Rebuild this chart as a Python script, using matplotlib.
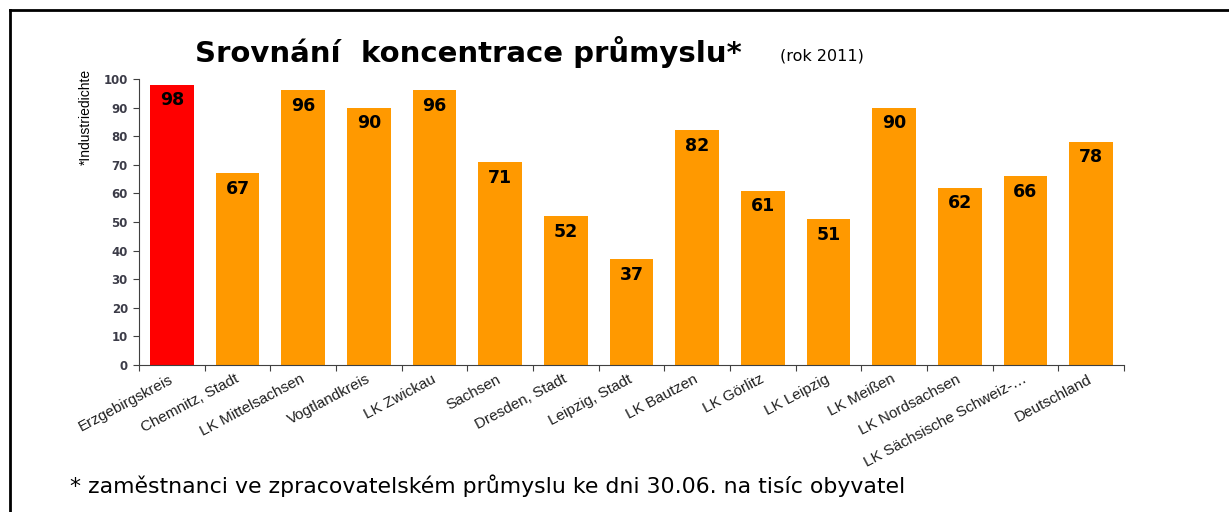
import matplotlib

matplotlib.use("Agg")
import matplotlib.pyplot as plt

categories = [
    "Erzgebirgskreis", "Chemnitz, Stadt", "LK Mittelsachsen", "Vogtlandkreis",
    "LK Zwickau", "Sachsen", "Dresden, Stadt", "Leipzig, Stadt", "LK Bautzen",
    "LK Görlitz", "LK Leipzig", "LK Meißen", "LK Nordsachsen",
    "LK Sächsische Schweiz-…", "Deutschland",
]
values = [98, 67, 96, 90, 96, 71, 52, 37, 82, 61, 51, 90, 62, 66, 78]
bar_colors = ["#ff0000"] + ["#ff9900"] * (len(values) - 1)
y_ticks = list(range(0, 101, 10))

plt.rcParams["font.family"] = ["Liberation Sans", "DejaVu Sans"]
WIDE = ["DejaVu Sans"]

fig = plt.figure(figsize=(12.29, 5.12), dpi=100)
ax = fig.add_axes([139 / 1229, 1 - 365 / 512, 985 / 1229, 286 / 512])

x = list(range(len(categories)))
ax.bar(x, values, width=0.67, color=bar_colors, zorder=2)
for xi, v in zip(x, values):
    ax.text(xi, v - 2.3, f"{v}", ha="center", va="top", fontsize=12.5,
            fontweight="bold", color="black", family=WIDE)

ax.set_xlim(-0.5, len(categories) - 0.5)
ax.set_ylim(0, 100)
ax.set_yticks(y_ticks)
ax.set_yticklabels([str(t) for t in y_ticks], fontsize=8.5, fontweight="bold",
                   color="#3c3c48", family=WIDE)
ax.set_xticks([i - 0.5 for i in range(len(categories) + 1)], minor=False)
ax.set_xticklabels([])
ax.set_xticks(x, minor=True)
ax.set_xticklabels(categories, minor=True, rotation=28, ha="right",
                   va="center", rotation_mode="anchor", fontsize=11,
                   color="#202020")
ax.tick_params(axis="x", which="minor", length=0, pad=9.5)
ax.tick_params(axis="x", which="major", length=4, color="#404040")
ax.tick_params(axis="y", length=4, color="#404040", pad=4)
for s in ("top", "right"):
    ax.spines[s].set_visible(False)
for s in ("left", "bottom"):
    ax.spines[s].set_color("#404040")

ax.set_ylabel("*Industriedichte", fontsize=10)
ax.yaxis.set_label_coords(-0.047, 0.867)

fig.text(195 / 1229, 1 - 52 / 512, "Srovnání  koncentrace průmyslu*",
         fontsize=21, fontweight="bold", va="center", ha="left", family=WIDE)
fig.text(780 / 1229, 1 - 56 / 512, "(rok 2011)", fontsize=11.5, va="center",
         ha="left", family=WIDE)
fig.text(70 / 1229, 1 - 486 / 512,
         "* zaměstnanci ve zpracovatelském průmyslu ke dni 30.06. na tisíc obyvatel",
         fontsize=15.8, va="center", ha="left", family=WIDE)

# frame lines (top and left)
fig.add_artist(plt.Line2D([10 / 1229, 1], [1 - 10 / 512, 1 - 10 / 512],
                          color="black", lw=2, transform=fig.transFigure))
fig.add_artist(plt.Line2D([10 / 1229, 10 / 1229], [0, 1 - 10 / 512],
                          color="black", lw=2, transform=fig.transFigure))

fig.savefig("out.png", dpi=100)
